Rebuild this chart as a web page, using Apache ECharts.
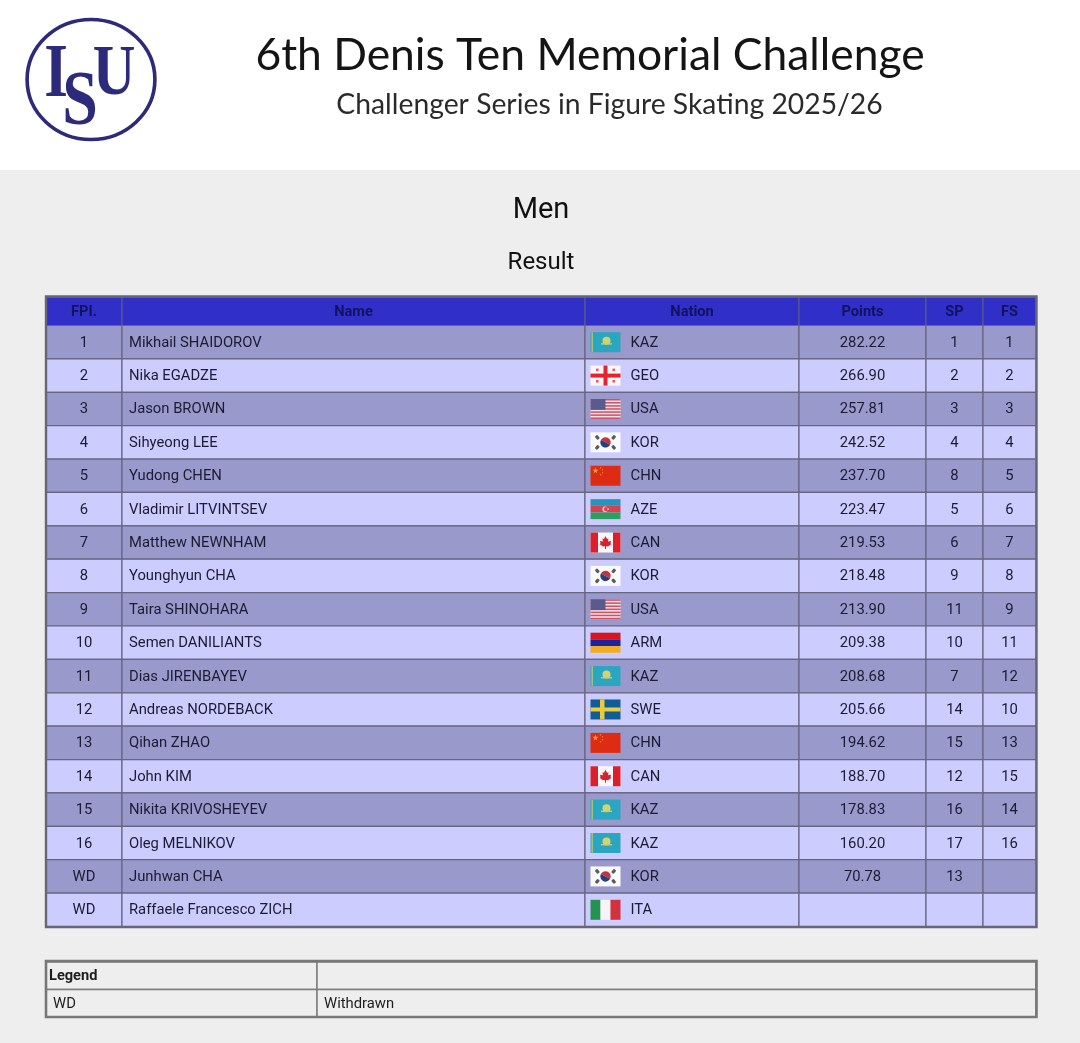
<!DOCTYPE html>
<html>
<head>
<meta charset="utf-8">
<style>
html,body{margin:0;padding:0;background:#eee}
#chart{width:1080px;height:1043px}
</style>
<script src="https://cdn.jsdelivr.net/npm/echarts@6/dist/echarts.min.js"></script>
</head>
<body>
<div id="chart"></div>
<script>
// table data
var headers = ['FPI.', 'Name', 'Nation', 'Points', 'SP', 'FS'];
var ranks = ['1','2','3','4','5','6','7','8','9','10','11','12','13','14','15','16','WD','WD'];
var names = ['Mikhail SHAIDOROV','Nika EGADZE','Jason BROWN','Sihyeong LEE','Yudong CHEN','Vladimir LITVINTSEV',
  'Matthew NEWNHAM','Younghyun CHA','Taira SHINOHARA','Semen DANILIANTS','Dias JIRENBAYEV','Andreas NORDEBACK',
  'Qihan ZHAO','John KIM','Nikita KRIVOSHEYEV','Oleg MELNIKOV','Junhwan CHA','Raffaele Francesco ZICH'];
var nations = ['KAZ','GEO','USA','KOR','CHN','AZE','CAN','KOR','USA','ARM','KAZ','SWE','CHN','CAN','KAZ','KAZ','KOR','ITA'];
var points = [282.22,266.90,257.81,242.52,237.70,223.47,219.53,218.48,213.90,209.38,208.68,205.66,194.62,188.70,178.83,160.20,70.78,null];
var spRanks = [1,2,3,4,8,5,6,9,11,10,7,14,15,12,16,17,13,null];
var fsRanks = [1,2,3,4,5,6,7,8,9,11,12,10,13,15,14,16,null,null];
var legendRows = [['Legend',''],['WD','Withdrawn']];

// layout
var colEdges = [0,76,539,753,880,937,990];
var legendEdges = [0,271,990];
var font = '14.8px Roboto';
var fontBold = 'bold 14.6px Roboto';
var ink = '#1b1b33';
var lineCol = '#66667e';

function rect(x,y,w,h,fill){ return {type:'rect',shape:{x:x,y:y,width:w,height:h},style:{fill:fill}}; }
function circle(x,y,r,fill){ return {type:'circle',shape:{cx:x,cy:y,r:r},style:{fill:fill}}; }
function star(cx,cy,r,fill,rot){
  var p = [];
  for (var i=0;i<10;i++){
    var a = (rot||0) - Math.PI/2 + i*Math.PI/5, q = i%2 ? r*0.4 : r;
    p.push([cx+q*Math.cos(a),cy+q*Math.sin(a)]);
  }
  return {type:'polygon',shape:{points:p},style:{fill:fill}};
}
function trigram(cx,cy,angle){
  return {type:'rect',x:cx,y:cy,rotation:angle,shape:{x:-2.2,y:-1.6,width:4.4,height:3.2,r:1},style:{fill:'#5a5a5e'}};
}

// 30x20 flag drawn in its own box
function flag(code,x,y){
  var c = [], i;
  if (code==='KAZ'){
    c.push(rect(x,y,30,20,'#2aa6c0'), rect(x+1,y,1.4,20,'#a9c67a'));
    c.push(circle(x+16,y+8.5,4,'#d9d268'), {type:'rect',shape:{x:x+10.5,y:y+11,width:11,height:1.4},style:{fill:'#c9cc74'}});
  } else if (code==='GEO'){
    c.push(rect(x,y,30,20,'#fbf6f6'), rect(x+13,y,4,20,'#e5222f'), rect(x,y+8,30,4,'#e5222f'));
    c.push(rect(x+5.5,y+3,2.6,2.6,'#e06068'), rect(x+22,y+3,2.6,2.6,'#e06068'), rect(x+5.5,y+14.4,2.6,2.6,'#e06068'), rect(x+22,y+14.4,2.6,2.6,'#e06068'));
  } else if (code==='USA'){
    c.push(rect(x,y,30,20,'#f4e4e8'));
    for (i=0;i<7;i++) c.push(rect(x,y+i*20/13*2,30,20/13,'#cf5166'));
    c.push(rect(x,y,15,10.8,'#5a5a8c'));
  } else if (code==='KOR'){
    c.push(rect(x,y,30,20,'#fafafa'));
    c.push({type:'sector',shape:{cx:x+15,cy:y+10,r:5.2,startAngle:-Math.PI*0.85,endAngle:Math.PI*0.15},style:{fill:'#c8323f'}});
    c.push({type:'sector',shape:{cx:x+15,cy:y+10,r:5.2,startAngle:Math.PI*0.15,endAngle:Math.PI*1.15},style:{fill:'#25407e'}});
    c.push(trigram(x+6.8,y+5,-0.9), trigram(x+23.2,y+5,0.9), trigram(x+6.8,y+15,0.9), trigram(x+23.2,y+15,-0.9));
  } else if (code==='CHN'){
    c.push(rect(x,y,30,20,'#de2b14'));
    c.push(star(x+5,y+5,3.2,'#eda03a'), star(x+10,y+2,1,'#eda03a'), star(x+12,y+4,1,'#eda03a'), star(x+12,y+7,1,'#eda03a'), star(x+10,y+9,1,'#eda03a'));
  } else if (code==='AZE'){
    c.push(rect(x,y,30,6.7,'#2a93b8'), rect(x,y+6.7,30,6.6,'#d6404f'), rect(x,y+13.3,30,6.7,'#2f9e63'));
    c.push(circle(x+14.6,y+10,2.6,'#f2e6ea'), circle(x+15.5,y+10,2.1,'#d6404f'), star(x+17.6,y+10,1.3,'#f2e6ea'));
  } else if (code==='CAN'){
    c.push(rect(x,y,30,20,'#fbf6f6'), rect(x,y,7.5,20,'#dc1f2d'), rect(x+22.5,y,7.5,20,'#dc1f2d'));
    c.push({type:'polygon',shape:{points:[[x+15,y+3.5],[x+16.5,y+6.5],[x+18,y+6],[x+17.5,y+9],[x+20.5,y+8.5],[x+20,y+11],[x+21,y+11.5],[x+17.5,y+14],[x+15.5,y+13.8],[x+15.5,y+16.5],[x+14.5,y+16.5],[x+14.5,y+13.8],[x+12.5,y+14],[x+9,y+11.5],[x+10,y+11],[x+9.5,y+8.5],[x+12.5,y+9],[x+12,y+6],[x+13.5,y+6.5]]},style:{fill:'#dc1f2d'}});
  } else if (code==='ARM'){
    c.push(rect(x,y,30,6.7,'#d8141f'), rect(x,y+6.7,30,6.6,'#1c23a0'), rect(x,y+13.3,30,6.7,'#f2ad1f'));
  } else if (code==='SWE'){
    c.push(rect(x,y,30,20,'#0f5c99'), rect(x+9.5,y,4.5,20,'#e8cc3a'), rect(x,y+8,30,4,'#e8cc3a'));
  } else if (code==='ITA'){
    c.push(rect(x,y,10,20,'#239350'), rect(x+10,y,10,20,'#f7f4f6'), rect(x+20,y,10,20,'#d2323c'));
  }
  return c;
}

function cellText(col,row){
  if (col===0) return ranks[row];
  if (col===1) return names[row];
  if (col===2) return nations[row];
  if (col===3) return points[row]===null ? '' : points[row].toFixed(2);
  if (col===4) return spRanks[row]===null ? '' : String(spRanks[row]);
  return fsRanks[row]===null ? '' : String(fsRanks[row]);
}

function renderBody(params,api){
  var col = api.value(0), row = api.value(1);
  var x0 = api.coord([colEdges[col],row])[0], x1 = api.coord([colEdges[col+1],row])[0];
  var yc = api.coord([0,row])[1], h = api.size([0,1])[1];
  var kids = [{type:'rect',shape:{x:x0,y:yc-h/2,width:x1-x0,height:h},
    style:{fill:row%2 ? '#ccccff' : '#9999cc',stroke:lineCol,lineWidth:1.2}}];
  if (col===2) kids = kids.concat(flag(nations[row],x0+5.5,yc-10));
  var tx = (x0+x1)/2, align = 'center';
  if (col===1){ tx = x0+7; align = 'left'; }
  if (col===2){ tx = x0+45.5; align = 'left'; }
  kids.push({type:'text',style:{text:cellText(col,row),x:tx,y:yc+0.8,align:align,verticalAlign:'middle',font:font,fill:ink}});
  return {type:'group',children:kids};
}

function renderHead(params,api){
  var col = api.value(0);
  var x0 = api.coord([colEdges[col],0])[0], x1 = api.coord([colEdges[col+1],0])[0];
  var yc = api.coord([0,0])[1], h = api.size([0,1])[1];
  return {type:'group',children:[
    {type:'rect',shape:{x:x0,y:yc-h/2,width:x1-x0,height:h},style:{fill:'#3030c8',stroke:'#585890',lineWidth:1.2}},
    {type:'text',style:{text:headers[col],x:(x0+x1)/2,y:yc+0.8,align:'center',verticalAlign:'middle',font:fontBold,fill:'#12125f'}}
  ]};
}

function renderLegend(params,api){
  var col = api.value(0), row = api.value(1);
  var x0 = api.coord([legendEdges[col],row])[0], x1 = api.coord([legendEdges[col+1],row])[0];
  var yc = api.coord([0,row])[1], h = api.size([0,1])[1];
  var tx = x0+7;
  if (row===0 && col===0) tx = x0+3;
  return {type:'group',children:[
    {type:'rect',shape:{x:x0,y:yc-h/2,width:x1-x0,height:h},style:{fill:'#eeeeee',stroke:'#7d7d7d',lineWidth:1.5}},
    {type:'text',style:{text:legendRows[row][col],x:tx,y:yc+0.8,align:'left',verticalAlign:'middle',font:row===0?fontBold:font,fill:'#1e1e1e'}}
  ]};
}

var headData = headers.map(function(h,i){ return [i,0]; });
var bodyData = [];
ranks.forEach(function(r,row){ headers.forEach(function(h,col){ bodyData.push([col,row]); }); });
var legendData = [[0,0],[1,0],[0,1],[1,1]];

function xAx(i){ return {type:'value',gridIndex:i,min:0,max:990,show:false}; }
function yAx(i,cats){ return {type:'category',gridIndex:i,data:cats,inverse:true,show:false}; }
function customSeries(i,render,data){
  return {type:'custom',xAxisIndex:i,yAxisIndex:i,renderItem:render,data:data,clip:false,silent:true,encode:{x:0,y:1}};
}

var logoCol = '#2e2a7b';
var titleFont = 'Lato';
var option = {
  animation:false,
  backgroundColor:'#eeeeee',
  grid:[
    {left:46,top:297,width:990,height:28.5},
    {left:46,top:325.5,width:990,height:601},
    {left:46,top:962,width:990,height:55}
  ],
  xAxis:[xAx(0),xAx(1),xAx(2)],
  yAxis:[yAx(0,['header']),yAx(1,names),yAx(2,['Legend','WD'])],
  series:[
    customSeries(0,renderHead,headData),
    customSeries(1,renderBody,bodyData),
    customSeries(2,renderLegend,legendData)
  ],
  graphic:[
    {type:'rect',z:0,shape:{x:0,y:0,width:1080,height:170},style:{fill:'#ffffff'}},
    {type:'circle',z:1,x:91,y:79.5,scaleX:1.065,shape:{cx:0,cy:0,r:60},style:{fill:'none',stroke:logoCol,lineWidth:3.4}},
    {type:'text',z:1,x:56,y:76,scaleX:0.8,style:{text:'I',align:'center',verticalAlign:'middle',font:'bold 76px "Liberation Serif"',fill:logoCol}},
    {type:'text',z:1,x:80,y:104,scaleX:0.82,style:{text:'S',align:'center',verticalAlign:'middle',font:'bold 78px "Liberation Serif"',fill:logoCol}},
    {type:'text',z:1,x:114,y:75,scaleX:0.82,style:{text:'U',align:'center',verticalAlign:'middle',font:'bold 72px "Liberation Serif"',fill:logoCol}},
    {type:'text',z:1,style:{text:'6th Denis Ten Memorial Challenge',x:590,y:56,align:'center',verticalAlign:'middle',font:'44.4px '+titleFont,fill:'#141414'}},
    {type:'text',z:1,style:{text:'Challenger Series in Figure Skating 2025/26',x:609.5,y:105,align:'center',verticalAlign:'middle',font:'28.3px '+titleFont,fill:'#2a2a2a'}},
    {type:'text',z:1,style:{text:'Men',x:541,y:211,align:'center',verticalAlign:'middle',font:'29px Roboto',fill:'#111'}},
    {type:'text',z:1,style:{text:'Result',x:541,y:263,align:'center',verticalAlign:'middle',font:'24px Roboto',fill:'#111'}},
    {type:'rect',z:50,shape:{x:46,y:296.5,width:990.5,height:630.5},style:{fill:'none',stroke:'#666678',lineWidth:2.4}},
    {type:'rect',z:50,shape:{x:46,y:961,width:990.5,height:56},style:{fill:'none',stroke:'#777777',lineWidth:2.6}}
  ]
};
echarts.init(document.getElementById('chart')).setOption(option);
</script>
</body>
</html>
